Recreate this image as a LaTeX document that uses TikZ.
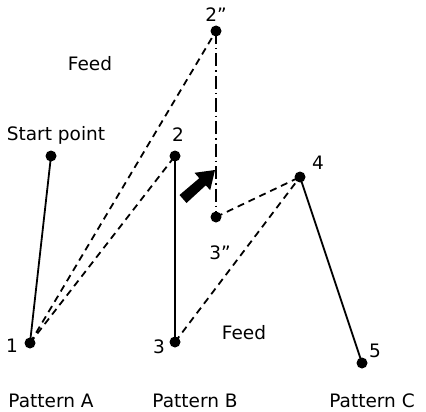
\documentclass[tikz,border=0pt]{standalone}
\usepackage{fontspec}
\setmainfont{DejaVu Sans}
\begin{document}
\begin{tikzpicture}[x=1pt,y=-1pt,
  dot/.style={circle,fill=black,inner sep=0pt,minimum size=11pt},
  lbl/.style={inner sep=0pt,font=\fontsize{18.5}{21}\selectfont},
  solidln/.style={line width=1.8pt},
  dashln/.style={line width=1.8pt,dash pattern=on 7pt off 5pt},
  dashdotln/.style={line width=1.4pt,dash pattern=on 13pt off 4pt on 1.5pt off 4pt}]
\useasboundingbox (0,0) rectangle (426,412);
% points
\node[dot] (s)  at (51,156) {};
\node[dot] (p1) at (30,343) {};
\node[dot] (p2) at (175,156) {};
\node[dot] (p2b) at (216,31) {};
\node[dot] (p3) at (175,342) {};
\node[dot] (p3b) at (216,217) {};
\node[dot] (p4) at (300,177) {};
\node[dot] (p5) at (362,363) {};
% connectors
\draw[solidln] (s.center) -- (p1.center);
\draw[dashln] (p1.center) -- (p2b.center);
\draw[dashln] (p1.center) -- (p2.center);
\draw[solidln] (p2.center) -- (p3.center);
\draw[dashdotln] (p2b.center) -- (p3b.center);
\draw[dashln] (p3b.center) -- (p4.center);
\draw[dashln] (p3.center) -- (p4.center);
\draw[solidln] (p4.center) -- (p5.center);
% block arrow
\fill (186.5,203) -- (179.5,195) -- (199.3,178.2) -- (194.5,172.8) -- (215,170)
  -- (210.2,190.2) -- (205.8,185.3) -- cycle;
% labels
\node[lbl] (l2b) at (216,15) {2”};
\node[lbl] (lfeed1) at (90,64) {Feed};
\node[lbl] (lstart) at (56,135) {Start point};
\node[lbl] (l2) at (178,135) {2};
\node[lbl] (l4) at (318,163) {4};
\node[lbl] (l3b) at (220,253) {3”};
\node[lbl] (l1) at (12,346) {1};
\node[lbl] (l3) at (159,347) {3};
\node[lbl] (lfeed2) at (244,333) {Feed};
\node[lbl] (l5) at (375,351) {5};
\node[lbl] (pa) at (51,401) {Pattern A};
\node[lbl] (pb) at (195,401) {Pattern B};
\node[lbl] (pc) at (372,401) {Pattern C};
\end{tikzpicture}
\end{document}
